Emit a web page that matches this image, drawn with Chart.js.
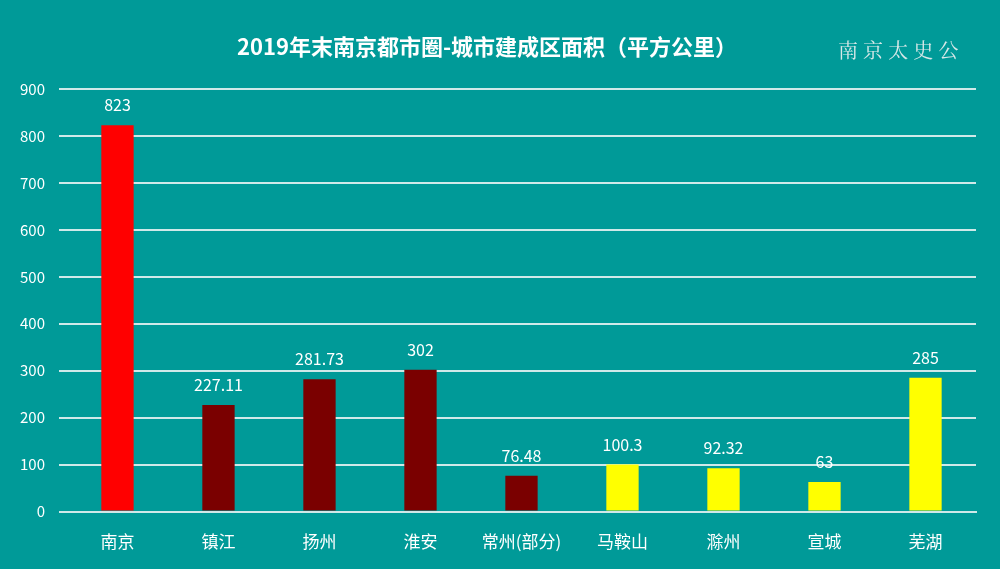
<!DOCTYPE html>
<html><head><meta charset="utf-8">
<script src="https://cdn.jsdelivr.net/npm/chart.js@4"></script>
<style>html,body{margin:0;padding:0;background:#009a98;}#w{width:1000px;height:569px;}</style>
</head><body><div id="w"><canvas id="c"></canvas></div>
<script>
const categories=['南京','镇江','扬州','淮安','常州(部分)','马鞍山','滁州','宣城','芜湖'];
const values=[823,227.11,281.73,302,76.48,100.3,92.32,63,285];
const barColors=['#ff0000','#7a0000','#7a0000','#7a0000','#7a0000','#ffff00','#ffff00','#ffff00','#ffff00'];
const yTicks=[0,100,200,300,400,500,600,700,800,900];
const F='"Noto Sans CJK SC","Noto Sans",sans-serif';
const extras={id:'extras',
 beforeDraw(c){const x=c.ctx;x.save();x.fillStyle='#009a98';x.fillRect(0,0,c.width,c.height);x.restore();},
 afterDraw(c){const x=c.ctx;x.save();
  x.fillStyle='#ffffff';x.font='bold 22px '+F;x.textAlign='center';x.textBaseline='middle';
  x.fillText('2019年末南京都市圈-城市建成区面积（平方公里）',487,47);
  x.fillStyle='#d8e8e8';x.font='20px "Noto Serif CJK SC",serif';x.textAlign='left';
  x.fillText('南 京 太 史 公',838,50);
  const m=c.getDatasetMeta(0);x.fillStyle='#ffffff';x.font='16px '+F;x.textAlign='center';x.textBaseline='bottom';
  m.data.forEach((b,i)=>x.fillText(String(values[i]),b.x,b.y-12));
  x.restore();}};
new Chart(document.getElementById('c'),{type:'bar',
 data:{labels:categories,datasets:[{data:values,backgroundColor:barColors,barPercentage:0.32,categoryPercentage:1}]},
 options:{responsive:true,maintainAspectRatio:false,animation:false,
  layout:{padding:{top:89,right:24,left:6,bottom:5}},
  plugins:{legend:{display:false},tooltip:{enabled:false}},
  scales:{x:{grid:{display:false},border:{color:'#cfe9e9',width:2},ticks:{color:'#ffffff',font:{family:F,size:17},padding:12}},
   y:{min:0,max:900,afterBuildTicks(a){a.ticks=yTicks.map(v=>({value:v}));},
    grid:{color:'#cfe9e9',lineWidth:2},border:{display:false},
    ticks:{color:'#ffffff',font:{family:F,size:15},padding:14}}}},
 plugins:[extras]});
</script></body></html>
